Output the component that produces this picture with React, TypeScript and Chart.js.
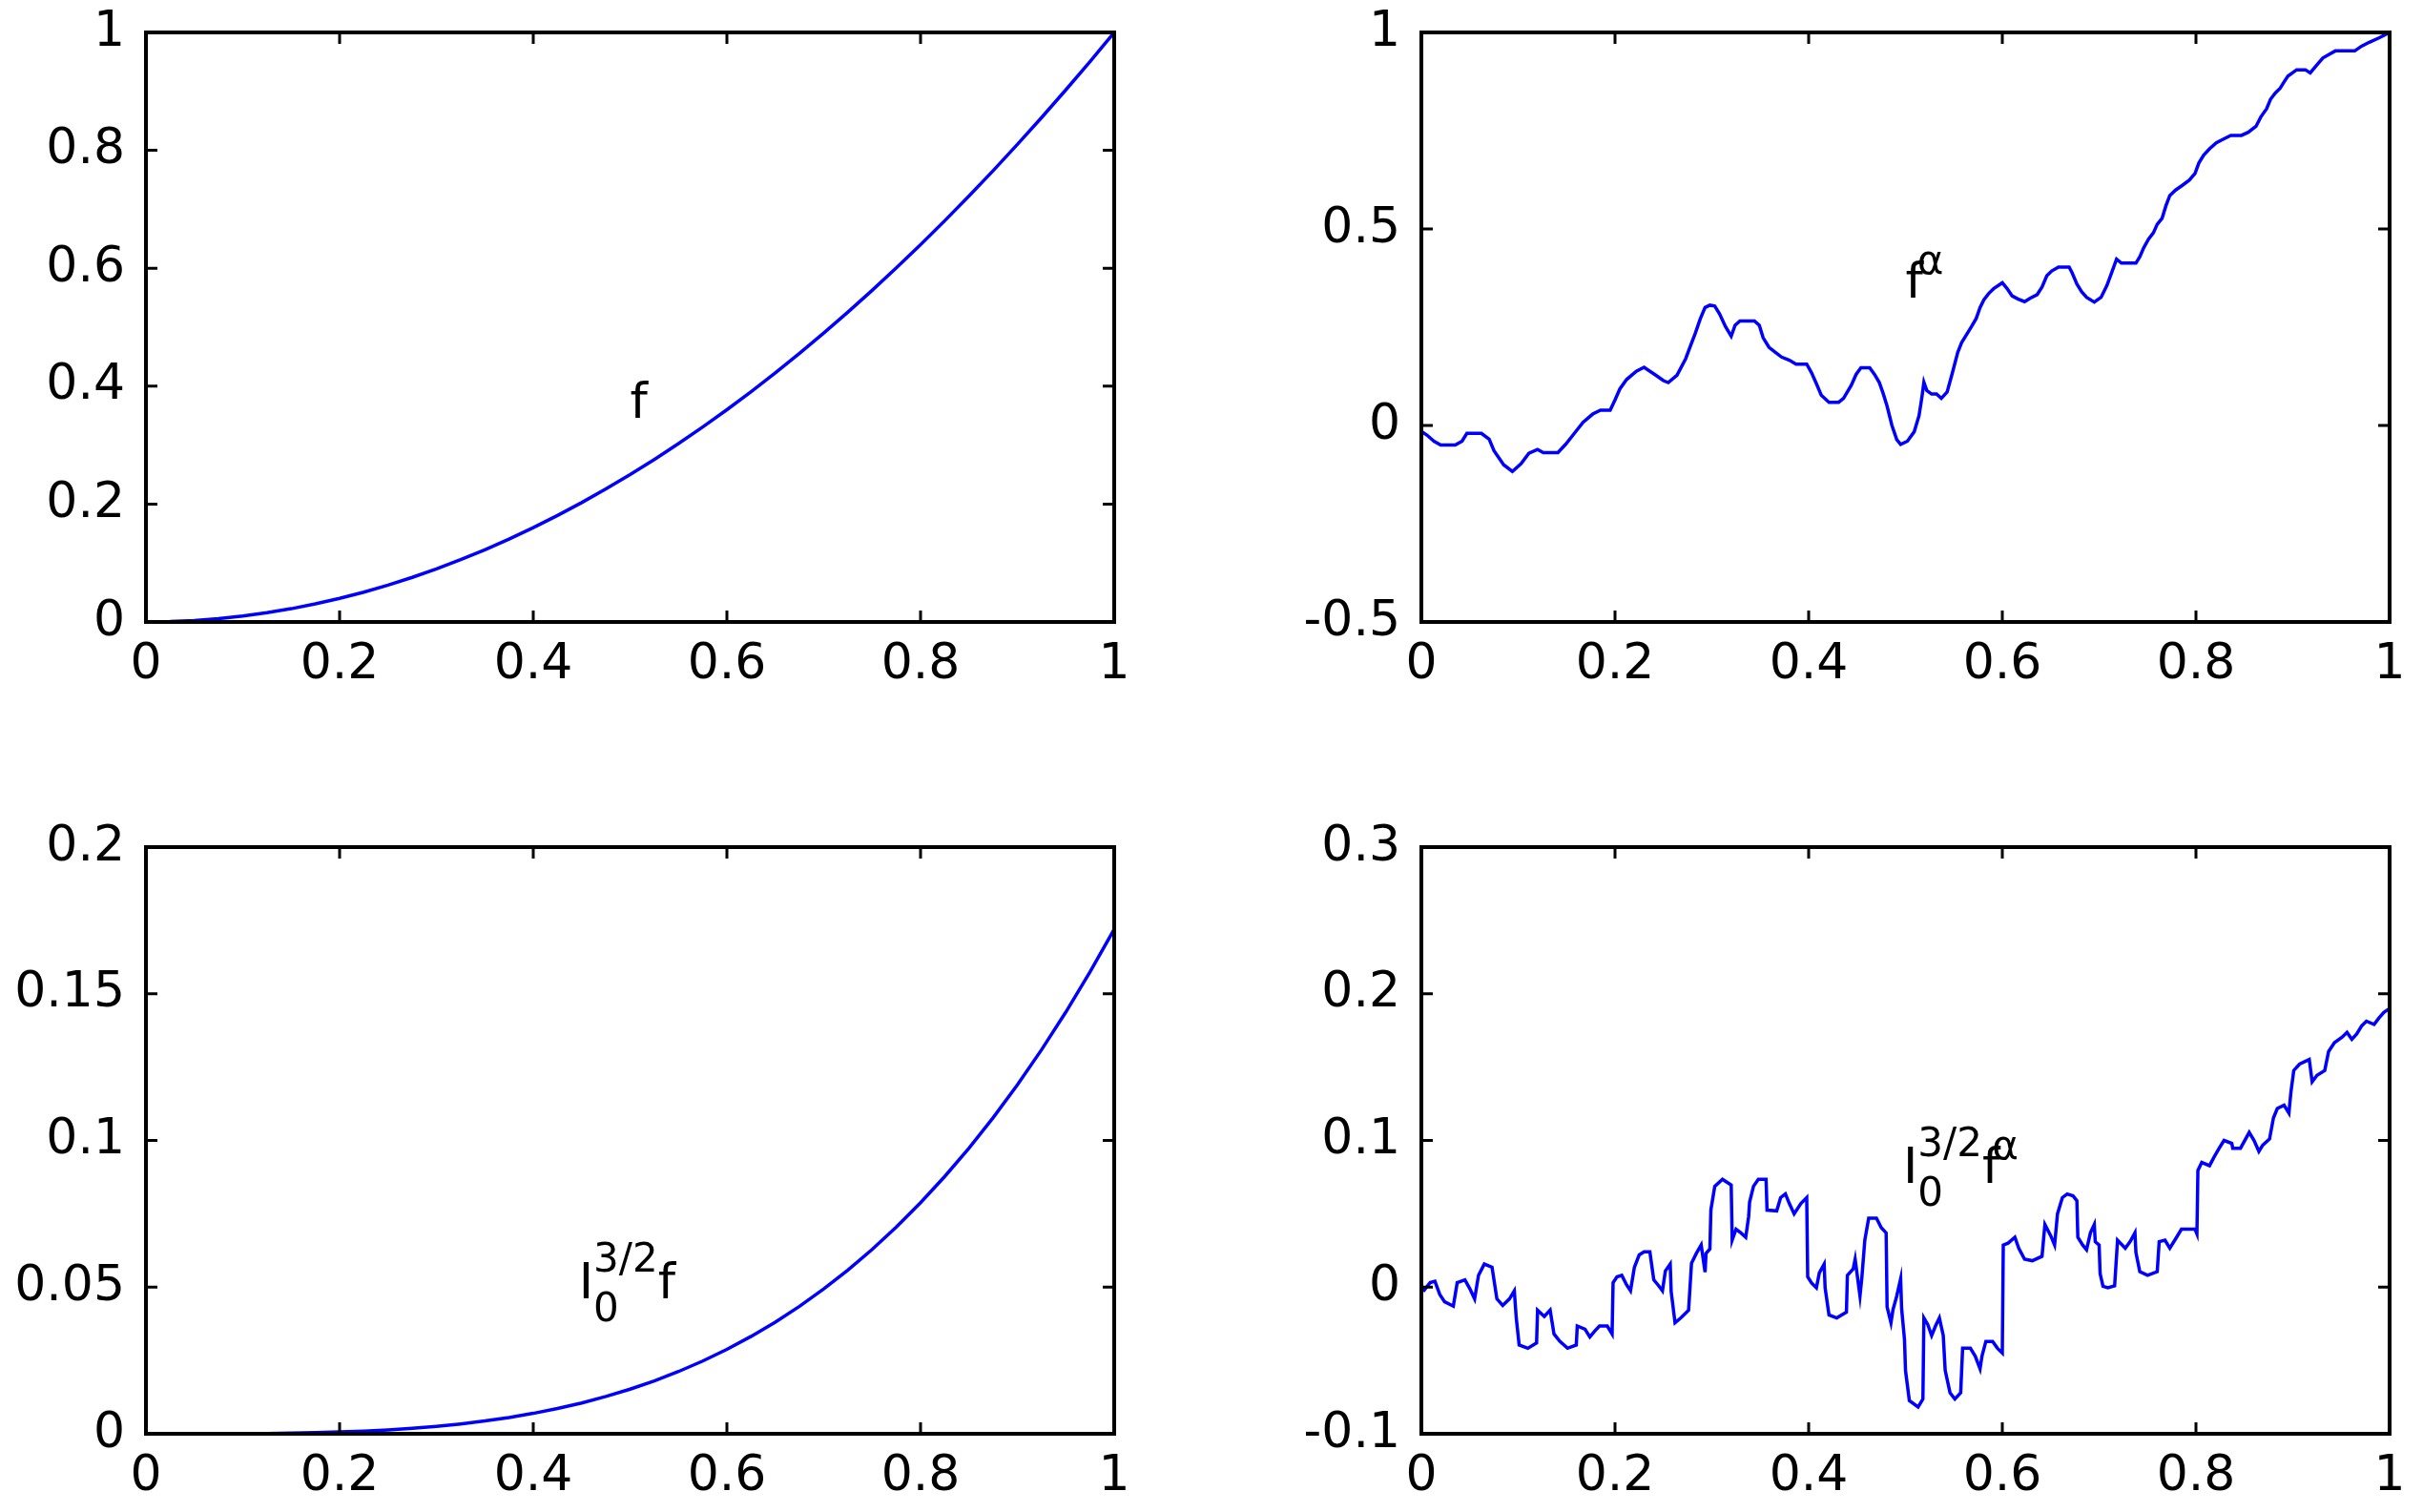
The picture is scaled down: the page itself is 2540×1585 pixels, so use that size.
import React, { useEffect, useRef } from "react";
import { Chart, registerables } from "chart.js";

Chart.register(...registerables);

// ---------- data ----------
const fX = [0, 0.025, 0.05, 0.075, 0.1, 0.125, 0.15, 0.175, 0.2, 0.225, 0.25, 0.275, 0.3, 0.325, 0.35, 0.375, 0.4, 0.425, 0.45, 0.475, 0.5, 0.525, 0.55, 0.575, 0.6, 0.625, 0.65, 0.675, 0.7, 0.725, 0.75, 0.775, 0.8, 0.825, 0.85, 0.875, 0.9, 0.925, 0.95, 0.975, 1];
const fY = [0, 0.000625, 0.0025, 0.005625, 0.01, 0.015625, 0.0225, 0.030625, 0.04, 0.050625, 0.0625, 0.075625, 0.09, 0.105625, 0.1225, 0.140625, 0.16, 0.180625, 0.2025, 0.225625, 0.25, 0.275625, 0.3025, 0.330625, 0.36, 0.390625, 0.4225, 0.455625, 0.49, 0.525625, 0.5625, 0.600625, 0.64, 0.680625, 0.7225, 0.765625, 0.81, 0.855625, 0.9025, 0.950625, 1];

const ifX = [0, 0.025, 0.05, 0.075, 0.1, 0.125, 0.15, 0.175, 0.2, 0.225, 0.25, 0.275, 0.3, 0.325, 0.35, 0.375, 0.4, 0.425, 0.45, 0.475, 0.5, 0.525, 0.55, 0.575, 0.6, 0.625, 0.65, 0.675, 0.7, 0.725, 0.75, 0.775, 0.8, 0.825, 0.85, 0.875, 0.9, 0.925, 0.95, 0.975, 1];
const ifY = [0, 0, 0.000005, 0.00002, 0.000054, 0.000119, 0.000225, 0.000386, 0.000615, 0.000929, 0.00134, 0.001876, 0.00254, 0.003366, 0.00436, 0.005554, 0.00696, 0.008608, 0.01051, 0.012704, 0.0152, 0.018034, 0.02122, 0.024795, 0.02878, 0.033198, 0.03808, 0.04346, 0.04936, 0.05581, 0.06284, 0.070483, 0.07877, 0.087724, 0.09739, 0.107785, 0.11895, 0.130926, 0.14373, 0.157414, 0.172];

const faX = [0, 0.006, 0.013, 0.02, 0.035, 0.042, 0.047, 0.062, 0.07, 0.075, 0.085, 0.094, 0.103, 0.111, 0.12, 0.126, 0.141, 0.149, 0.158, 0.167, 0.177, 0.185, 0.195, 0.2, 0.205, 0.212, 0.222, 0.23, 0.242, 0.25, 0.255, 0.264, 0.273, 0.278, 0.283, 0.288, 0.293, 0.298, 0.303, 0.308, 0.314, 0.32, 0.324, 0.329, 0.344, 0.349, 0.353, 0.359, 0.365, 0.372, 0.38, 0.387, 0.398, 0.403, 0.408, 0.413, 0.421, 0.431, 0.436, 0.444, 0.449, 0.454, 0.463, 0.468, 0.473, 0.477, 0.481, 0.486, 0.491, 0.495, 0.502, 0.509, 0.514, 0.517, 0.519, 0.522, 0.527, 0.532, 0.537, 0.543, 0.548, 0.554, 0.558, 0.563, 0.568, 0.573, 0.577, 0.581, 0.586, 0.591, 0.6, 0.605, 0.61, 0.616, 0.623, 0.629, 0.636, 0.641, 0.646, 0.651, 0.658, 0.669, 0.672, 0.677, 0.682, 0.687, 0.695, 0.702, 0.708, 0.713, 0.718, 0.723, 0.738, 0.742, 0.746, 0.751, 0.756, 0.76, 0.765, 0.769, 0.773, 0.779, 0.786, 0.793, 0.799, 0.803, 0.808, 0.814, 0.821, 0.828, 0.836, 0.847, 0.854, 0.862, 0.867, 0.873, 0.877, 0.882, 0.887, 0.891, 0.895, 0.904, 0.913, 0.918, 0.924, 0.931, 0.938, 0.944, 0.964, 0.971, 0.979, 0.989, 1];
const faY = [-0.015, -0.025, -0.04, -0.05, -0.05, -0.04, -0.02, -0.02, -0.035, -0.064, -0.1, -0.117, -0.097, -0.071, -0.061, -0.069, -0.069, -0.048, -0.02, 0.008, 0.029, 0.039, 0.039, 0.065, 0.093, 0.117, 0.138, 0.148, 0.128, 0.114, 0.109, 0.128, 0.17, 0.203, 0.235, 0.271, 0.3, 0.306, 0.304, 0.284, 0.252, 0.227, 0.255, 0.266, 0.266, 0.255, 0.223, 0.199, 0.187, 0.174, 0.166, 0.156, 0.156, 0.134, 0.106, 0.077, 0.059, 0.059, 0.069, 0.102, 0.13, 0.147, 0.147, 0.13, 0.109, 0.081, 0.049, 0.0, -0.036, -0.048, -0.04, -0.016, 0.025, 0.073, 0.11, 0.089, 0.08, 0.08, 0.069, 0.085, 0.13, 0.186, 0.211, 0.231, 0.251, 0.272, 0.3, 0.32, 0.336, 0.348, 0.363, 0.348, 0.33, 0.322, 0.315, 0.324, 0.333, 0.352, 0.381, 0.393, 0.403, 0.403, 0.389, 0.36, 0.34, 0.326, 0.314, 0.326, 0.356, 0.389, 0.423, 0.413, 0.413, 0.429, 0.452, 0.474, 0.49, 0.512, 0.527, 0.559, 0.585, 0.599, 0.611, 0.624, 0.641, 0.668, 0.688, 0.704, 0.719, 0.728, 0.738, 0.738, 0.746, 0.761, 0.785, 0.806, 0.83, 0.846, 0.858, 0.874, 0.889, 0.905, 0.905, 0.897, 0.915, 0.935, 0.945, 0.953, 0.953, 0.965, 0.975, 0.986, 1.0];

const ifaX = [0, 0.003, 0.009, 0.014, 0.019, 0.024, 0.033, 0.037, 0.045, 0.05, 0.055, 0.059, 0.065, 0.073, 0.078, 0.084, 0.091, 0.096, 0.098, 0.101, 0.11, 0.119, 0.12, 0.127, 0.133, 0.137, 0.143, 0.151, 0.16, 0.161, 0.169, 0.174, 0.179, 0.184, 0.192, 0.197, 0.198, 0.202, 0.207, 0.212, 0.216, 0.22, 0.225, 0.23, 0.236, 0.24, 0.245, 0.249, 0.252, 0.257, 0.258, 0.262, 0.268, 0.276, 0.279, 0.284, 0.289, 0.293, 0.294, 0.298, 0.299, 0.303, 0.311, 0.32, 0.321, 0.325, 0.33, 0.335, 0.338, 0.339, 0.343, 0.348, 0.356, 0.357, 0.367, 0.371, 0.376, 0.38, 0.385, 0.392, 0.398, 0.399, 0.403, 0.408, 0.411, 0.416, 0.417, 0.421, 0.429, 0.439, 0.44, 0.446, 0.448, 0.453, 0.455, 0.458, 0.462, 0.47, 0.475, 0.48, 0.481, 0.485, 0.487, 0.491, 0.495, 0.496, 0.499, 0.5, 0.504, 0.513, 0.518, 0.519, 0.523, 0.527, 0.531, 0.535, 0.539, 0.541, 0.546, 0.551, 0.557, 0.559, 0.567, 0.572, 0.577, 0.579, 0.583, 0.59, 0.595, 0.6, 0.601, 0.606, 0.613, 0.617, 0.623, 0.631, 0.641, 0.644, 0.65, 0.654, 0.657, 0.662, 0.667, 0.673, 0.677, 0.678, 0.683, 0.687, 0.691, 0.695, 0.696, 0.7, 0.701, 0.704, 0.709, 0.716, 0.719, 0.727, 0.732, 0.737, 0.738, 0.742, 0.75, 0.76, 0.762, 0.768, 0.773, 0.78, 0.785, 0.799, 0.801, 0.802, 0.806, 0.814, 0.819, 0.824, 0.829, 0.837, 0.838, 0.846, 0.855, 0.86, 0.865, 0.869, 0.876, 0.88, 0.884, 0.891, 0.896, 0.898, 0.901, 0.907, 0.917, 0.92, 0.925, 0.933, 0.937, 0.943, 0.951, 0.956, 0.961, 0.966, 0.971, 0.976, 0.984, 0.989, 0.994, 1];
const ifaY = [0, -0.002, 0.003, 0.004, -0.005, -0.01, -0.013, 0.003, 0.005, -0.001, -0.008, 0.008, 0.0157, 0.0135, -0.008, -0.0125, -0.008, -0.0025, -0.021, -0.0395, -0.0417, -0.038, -0.0157, -0.02, -0.0157, -0.032, -0.037, -0.0417, -0.0395, -0.0265, -0.0287, -0.034, -0.03, -0.0265, -0.0265, -0.032, 0.003, 0.007, 0.008, 0.0015, -0.0025, 0.0135, 0.022, 0.024, 0.024, 0.005, 0.001, -0.0025, 0.011, 0.0157, -0.003, -0.0243, -0.021, -0.0157, 0.0163, 0.023, 0.0287, 0.0102, 0.023, 0.026, 0.0525, 0.0687, 0.0735, 0.0696, 0.032, 0.0395, 0.037, 0.034, 0.048, 0.058, 0.0687, 0.0735, 0.0735, 0.0525, 0.052, 0.061, 0.0635, 0.057, 0.05, 0.057, 0.061, 0.007, 0.0028, -0.0005, 0.0097, 0.0157, -0.0005, -0.019, -0.021, -0.017, 0.008, 0.0124, 0.019, -0.0061, 0.007, 0.032, 0.047, 0.047, 0.0405, 0.037, -0.0135, -0.0243, -0.0157, -0.006, 0.0057, -0.0146, -0.036, -0.0568, -0.0774, -0.0818, -0.0763, -0.021, -0.0255, -0.033, -0.0265, -0.021, -0.033, -0.0568, -0.072, -0.0763, -0.072, -0.0417, -0.0417, -0.047, -0.0557, -0.047, -0.037, -0.037, -0.0417, -0.045, 0.0287, 0.03, 0.034, 0.0265, 0.019, 0.018, 0.021, 0.0427, 0.035, 0.0287, 0.05, 0.061, 0.0635, 0.0622, 0.0589, 0.034, 0.0287, 0.0255, 0.037, 0.0427, 0.0309, 0.0287, 0.0092, 0.0005, -0.0005, 0.0009, 0.032, 0.0265, 0.031, 0.037, 0.0235, 0.0105, 0.008, 0.0105, 0.031, 0.032, 0.0265, 0.034, 0.0395, 0.0395, 0.0363, 0.0795, 0.085, 0.0828, 0.089, 0.0947, 0.1, 0.098, 0.0947, 0.0947, 0.1055, 0.1, 0.0925, 0.0968, 0.101, 0.1153, 0.1218, 0.124, 0.1186, 0.1326, 0.1477, 0.152, 0.1552, 0.14, 0.1444, 0.1477, 0.1607, 0.1667, 0.1704, 0.1737, 0.169, 0.1726, 0.178, 0.1813, 0.1791, 0.1835, 0.1872, 0.19];

// axis ranges and tick steps
const xRange = [0, 1];
const xStep = 0.2;
const yRangeF = [0, 1];
const yStepF = 0.2;
const yRangeFa = [-0.5, 1];
const yStepFa = 0.5;
const yRangeIf = [0, 0.2];
const yStepIf = 0.05;
const yRangeIfa = [-0.1, 0.3];
const yStepIfa = 0.1;

// ---------- styling ----------
const FONT = "'DejaVu Sans', 'Liberation Sans', sans-serif";
const TICK_SIZE = 52;
const MAIN_SIZE = 52;
const SCRIPT_SIZE = 42;
const Y_AXIS_W = 150;
const X_AXIS_H = 100;
const PAD_TOP = 70;
const PAD_RIGHT = 50;

type Piece =
  | { kind: "text"; t: string; dx?: number; raise?: number; size?: number }
  | { kind: "stack"; sup: string; sub: string; dx?: number };

interface Label {
  x: number;
  y: number;
  pieces: Piece[];
}

function drawLabel(ctx: CanvasRenderingContext2D, px: number, py: number, pieces: Piece[]) {
  let cursor = px;
  ctx.fillStyle = "#000";
  ctx.textAlign = "left";
  ctx.textBaseline = "alphabetic";
  for (const p of pieces) {
    cursor += p.dx || 0;
    if (p.kind === "text") {
      const size = p.size || MAIN_SIZE;
      ctx.font = `${size}px ${FONT}`;
      ctx.fillText(p.t, cursor, py - (p.raise || 0));
      cursor += ctx.measureText(p.t).width;
    } else {
      ctx.font = `${SCRIPT_SIZE}px ${FONT}`;
      ctx.fillText(p.sup, cursor, py - 28);
      ctx.fillText(p.sub, cursor, py + 24);
      cursor += Math.max(ctx.measureText(p.sup).width, ctx.measureText(p.sub).width);
    }
  }
}

const boxPlugin = {
  id: "matlabBox",
  afterDraw(chart: any) {
    const { ctx, chartArea } = chart;
    const { left, top, right, bottom } = chartArea;
    const xs = chart.scales.x;
    const ys = chart.scales.y;
    ctx.save();
    ctx.strokeStyle = "#000";
    ctx.lineWidth = 3;
    ctx.beginPath();
    const TL = 12;
    xs.ticks.forEach((t: any) => {
      const p = xs.getPixelForValue(t.value);
      if (p > left + 2 && p < right - 2) {
        ctx.moveTo(p, bottom);
        ctx.lineTo(p, bottom - TL);
        ctx.moveTo(p, top);
        ctx.lineTo(p, top + TL);
      }
    });
    ys.ticks.forEach((t: any) => {
      const p = ys.getPixelForValue(t.value);
      if (p > top + 2 && p < bottom - 2) {
        ctx.moveTo(left, p);
        ctx.lineTo(left + TL, p);
        ctx.moveTo(right, p);
        ctx.lineTo(right - TL, p);
      }
    });
    ctx.stroke();
    ctx.lineWidth = 4;
    ctx.strokeRect(left, top, right - left, bottom - top);
    const lbl: Label | undefined = chart.options.plugins.matlabBox?.label;
    if (lbl) {
      drawLabel(ctx, xs.getPixelForValue(lbl.x), ys.getPixelForValue(lbl.y), lbl.pieces);
    }
    ctx.restore();
  },
};

const fmt = (v: number) => {
  const r = Math.round(v * 10000) / 10000;
  return String(r);
};

interface PanelProps {
  xs: number[];
  ys: number[];
  yRange: number[];
  yStep: number;
  box: { left: number; top: number; width: number; height: number };
  label: Label;
}

function Panel({ xs, ys, yRange, yStep, box, label }: PanelProps) {
  const ref = useRef<HTMLCanvasElement | null>(null);
  const cw = box.width + Y_AXIS_W + PAD_RIGHT;
  const ch = box.height + PAD_TOP + X_AXIS_H;
  useEffect(() => {
    if (!ref.current) return;
    const points = xs.map((x, i) => ({ x, y: ys[i] }));
    const chart = new Chart(ref.current, {
      type: "line",
      data: {
        datasets: [
          {
            data: points,
            borderColor: "#0000ff",
            borderWidth: 3.5,
            pointRadius: 0,
            tension: 0,
            fill: false,
          },
        ],
      },
      options: {
        animation: false,
        responsive: false,
        events: [],
        layout: { padding: { left: 0, top: PAD_TOP, right: PAD_RIGHT, bottom: 0 } },
        plugins: {
          legend: { display: false },
          tooltip: { enabled: false },
          // @ts-ignore
          matlabBox: { label },
        },
        scales: {
          x: {
            type: "linear",
            min: xRange[0],
            max: xRange[1],
            grid: { display: false, drawTicks: false },
            border: { display: false },
            ticks: {
              stepSize: xStep,
              padding: 14,
              maxRotation: 0,
              autoSkip: false,
              color: "#000",
              font: { family: FONT, size: TICK_SIZE },
              callback: (v: any) => fmt(Number(v)),
            },
            afterFit: (s: any) => {
              s.height = X_AXIS_H;
            },
          },
          y: {
            type: "linear",
            min: yRange[0],
            max: yRange[1],
            grid: { display: false, drawTicks: false },
            border: { display: false },
            ticks: {
              stepSize: yStep,
              padding: 22,
              autoSkip: false,
              color: "#000",
              font: { family: FONT, size: TICK_SIZE },
              callback: (v: any) => fmt(Number(v)),
            },
            afterFit: (s: any) => {
              s.width = Y_AXIS_W;
            },
          },
        },
      },
      plugins: [boxPlugin],
    });
    return () => chart.destroy();
  }, []);
  return (
    <canvas
      ref={ref}
      width={cw}
      height={ch}
      style={{
        position: "absolute",
        left: box.left - Y_AXIS_W,
        top: box.top - PAD_TOP,
        width: cw,
        height: ch,
      }}
    />
  );
}

export default function App() {
  return (
    <div
      style={{
        position: "fixed",
        left: 0,
        top: 0,
        width: 2540,
        height: 1585,
        background: "#fff",
        overflow: "hidden",
      }}
    >
      <Panel
        xs={fX}
        ys={fY}
        yRange={yRangeF}
        yStep={yStepF}
        box={{ left: 153, top: 34, width: 1015, height: 618 }}
        label={{ x: 0.5, y: 0.346, pieces: [{ kind: "text", t: "f" }] }}
      />
      <Panel
        xs={faX}
        ys={faY}
        yRange={yRangeFa}
        yStep={yStepFa}
        box={{ left: 1490, top: 34, width: 1015, height: 618 }}
        label={{
          x: 0.5,
          y: 0.325,
          pieces: [
            { kind: "text", t: "f" },
            { kind: "text", t: "α", dx: -6, raise: 25, size: SCRIPT_SIZE },
          ],
        }}
      />
      <Panel
        xs={ifX}
        ys={ifY}
        yRange={yRangeIf}
        yStep={yStepIf}
        box={{ left: 153, top: 888, width: 1015, height: 615 }}
        label={{
          x: 0.447,
          y: 0.0462,
          pieces: [
            { kind: "text", t: "I" },
            { kind: "stack", sup: "3/2", sub: "0" },
            { kind: "text", t: "f", dx: 0 },
          ],
        }}
      />
      <Panel
        xs={ifaX}
        ys={ifaY}
        yRange={yRangeIfa}
        yStep={yStepIfa}
        box={{ left: 1490, top: 888, width: 1015, height: 615 }}
        label={{
          x: 0.4975,
          y: 0.071,
          pieces: [
            { kind: "text", t: "I" },
            { kind: "stack", sup: "3/2", sub: "0" },
            { kind: "text", t: "f", dx: 0 },
            { kind: "text", t: "α", dx: -8, raise: 25, size: SCRIPT_SIZE },
          ],
        }}
      />
    </div>
  );
}
